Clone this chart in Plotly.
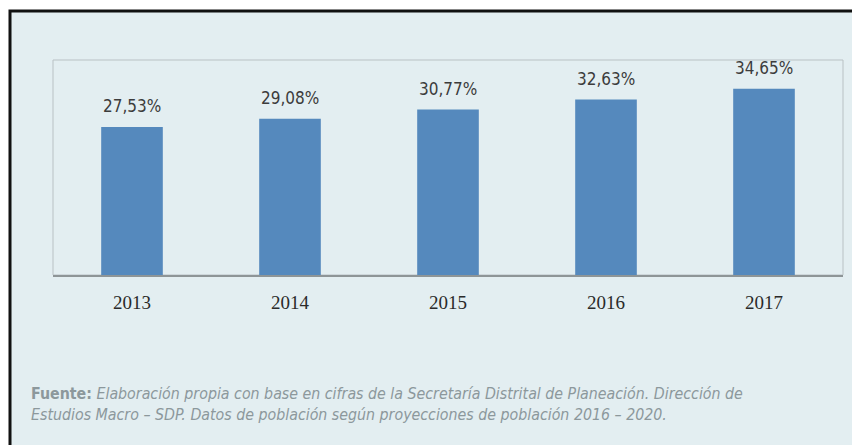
import plotly.graph_objects as go

years = ["2013", "2014", "2015", "2016", "2017"]
values = [27.53, 29.08, 30.77, 32.63, 34.65]
labels = ["27,53%", "29,08%", "30,77%", "32,63%", "34,65%"]
source_bold = "Fuente:"
source_text = ("Elaboración propia con base en cifras de la Secretaría Distrital de Planeación. Dirección de<br>"
               "Estudios Macro – SDP. Datos de población según proyecciones de población 2016 – 2020.")

W, H = 852, 445
L, R, T, B = 53, 843, 60, 275
pw, ph = R - L, B - T

def px(x):
    return (x - L) / pw

def py(y):
    return (B - y) / ph

fig = go.Figure()
fig.add_trace(go.Bar(x=years, y=values, marker=dict(color="#5589bd", line=dict(width=0)),
                     hoverinfo="skip"))

annotations = []
for i, (v, lab) in enumerate(zip(values, labels)):
    annotations.append(dict(x=i, y=v, xref="x", yref="y", text=lab, showarrow=False,
                            yanchor="middle", yshift=21,
                            font=dict(family="DejaVu Sans Condensed, sans-serif",
                                      size=17, color="#3c3c3c")))
annotations.append(dict(x=px(29), y=py(393), xref="paper", yref="paper", xanchor="left",
                        yanchor="top", align="left", showarrow=False, yshift=11,
                        text=f"<b>{source_bold}</b> <i>{source_text}</i>",
                        font=dict(family="DejaVu Sans Condensed, sans-serif",
                                  size=15.8, color="#8c989c")))

shapes = [
    dict(type="rect", xref="paper", yref="paper", x0=px(10), x1=px(870), y0=py(460), y1=py(11),
         line=dict(color="#111111", width=3), fillcolor="#e3eef1", layer="below"),
    dict(type="rect", xref="paper", yref="paper", x0=0, x1=1, y0=0, y1=1,
         line=dict(color="#b9c1c4", width=1), fillcolor="rgba(0,0,0,0)", layer="below"),
]

fig.update_layout(
    width=W, height=H,
    margin=dict(l=L, r=W - R, t=T, b=H - B),
    paper_bgcolor="white", plot_bgcolor="rgba(0,0,0,0)",
    bargap=0.61, showlegend=False,
    shapes=shapes, annotations=annotations,
    xaxis=dict(type="category", range=[-0.5, 4.5], showline=True, linecolor="#8e9597", linewidth=2,
               ticks="outside", ticklen=9, tickcolor="rgba(0,0,0,0)", showgrid=False,
               tickfont=dict(family="Liberation Serif, serif", size=19, color="#2a2a2a")),
    yaxis=dict(range=[0, 40], showgrid=False, showticklabels=False, zeroline=False,
               showline=False, ticks=""),
)

fig.write_html("out.html", config={"displayModeBar": False},
               post_script="document.body.style.margin='0';document.body.style.padding='0';")
